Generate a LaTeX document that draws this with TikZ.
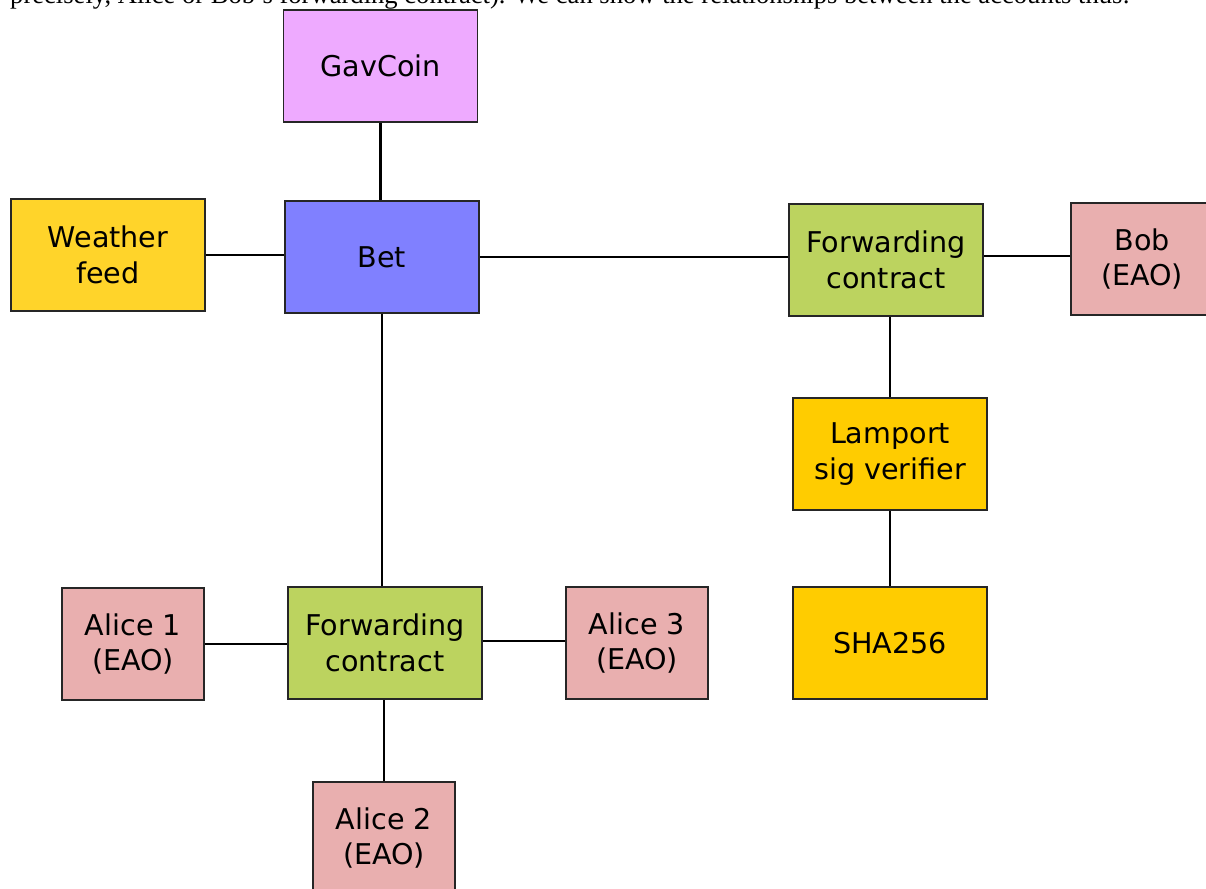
\documentclass[tikz,border=0pt]{standalone}
\usepackage{fontspec}
\setmainfont{DejaVu Sans}
\newfontfamily\introfont{Liberation Serif}
\definecolor{gavc}{HTML}{EEAAFF}
\definecolor{betc}{HTML}{8080FF}
\definecolor{wthc}{HTML}{FFD42A}
\definecolor{fwdc}{HTML}{BCD35F}
\definecolor{eaoc}{HTML}{E9AFAF}
\definecolor{lamc}{HTML}{FFCC00}
\begin{document}
\begin{tikzpicture}[x=1pt,y=-1pt,
  box/.style={draw=black!85, line width=1.6pt, minimum height=112pt, align=center,
    font=\fontsize{28.6}{35.5}\selectfont, inner sep=0pt},
  wide/.style={box, minimum width=194pt},
  narrow/.style={box, minimum width=142pt},
  link/.style={line width=2.2pt, black}]
\useasboundingbox (0,0) rectangle (1206,888);
\clip (0,0) rectangle (1206,888);
\node[anchor=base west, inner sep=0pt, font=\introfont\fontsize{26.6}{30}\selectfont] (intro) at (10,4)
  {precisely, Alice or Bob’s forwarding contract). We can show the relationships between the accounts thus:};
\node[wide, fill=gavc] (gav) at (380.5,66) {GavCoin};
\node[wide, fill=wthc] (wth) at (108,255) {Weather\\feed};
\node[wide, fill=betc] (bet) at (382,257) {Bet};
\node[wide, fill=fwdc] (fwdr) at (886,260) {Forwarding\\contract};
\node[narrow, fill=eaoc] (bob) at (1142,259) {Bob\\(EAO)};
\node[wide, fill=lamc] (lam) at (890,454) {Lamport\\sig verifier};
\node[wide, fill=lamc] (sha) at (890,643) {SHA256};
\node[wide, fill=fwdc] (fwdl) at (385,643) {Forwarding\\contract};
\node[narrow, fill=eaoc] (a1) at (133,644) {Alice 1\\(EAO)};
\node[narrow, fill=eaoc] (a3) at (637,643) {Alice 3\\(EAO)};
\node[narrow, fill=eaoc] (a2) at (384,838) {Alice 2\\(EAO)};
\draw[link] (gav.south) -- (gav.south |- bet.north);
\draw[link] (wth.east) -- (wth.east -| bet.west);
\draw[link] (bet.east) -- (bet.east -| fwdr.west);
\draw[link] ([yshift=3pt]bob.west) -- ([yshift=3pt]bob.west -| fwdr.east);
\draw[link] (bet.south) -- (bet.south |- fwdl.north);
\draw[link] (lam.north) -- (lam.north |- fwdr.south);
\draw[link] (lam.south) -- (sha.north);
\draw[link] (a1.east) -- (a1.east -| fwdl.west);
\draw[link] ([yshift=2pt]fwdl.east) -- ([yshift=2pt]fwdl.east -| a3.west);
\draw[link] (a2.north) -- (a2.north |- fwdl.south);
\end{tikzpicture}
\end{document}
